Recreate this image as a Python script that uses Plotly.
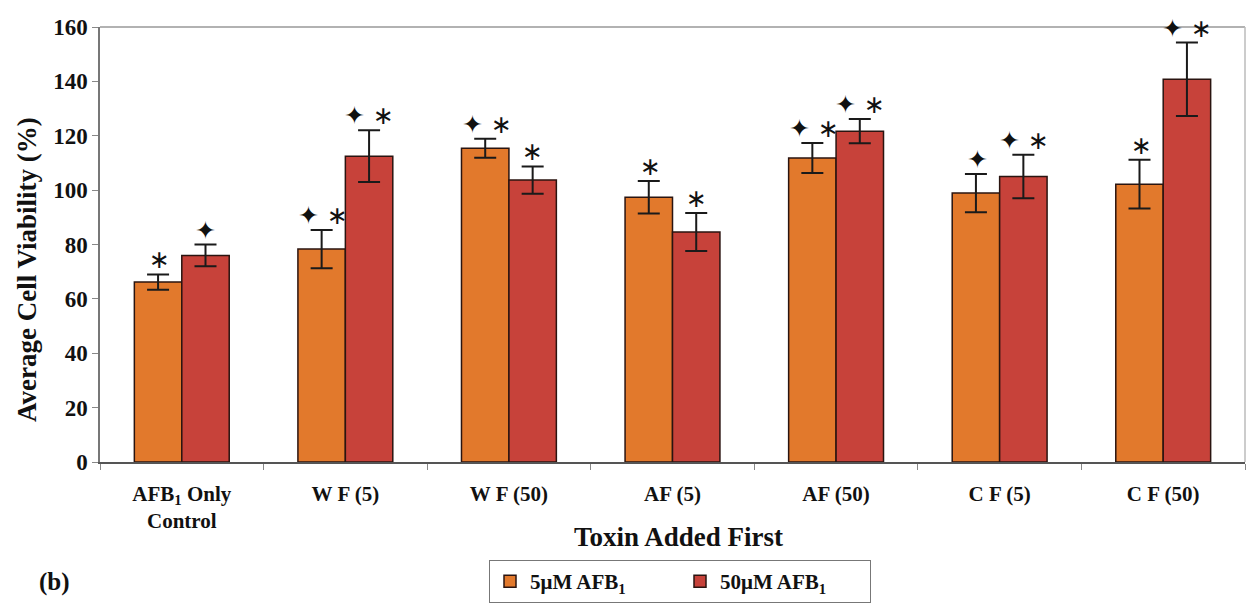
import plotly.graph_objects as go

categories = ["AFB<sub>1</sub> Only<br>Control", "W F (5)", "W F (50)", "AF (5)", "AF (50)", "C F (5)", "C F (50)"]
series_names = ["5μM AFB<sub>1</sub>", "50μM AFB<sub>1</sub>"]
vals_5 = [66.2, 78.3, 115.4, 97.4, 111.8, 98.9, 102.2]
err_5 = [2.8, 7.0, 3.5, 6.0, 5.5, 7.0, 9.0]
vals_50 = [76.0, 112.5, 103.7, 84.6, 121.7, 105.0, 140.8]
err_50 = [4.0, 9.5, 5.0, 7.0, 4.5, 8.0, 13.5]
marks_5 = ["∗", "✦ ∗", "✦ ∗", "∗", "✦ ∗", "✦", "∗"]
marks_50 = ["✦", "✦ ∗", "∗", "∗", "✦ ∗", "✦ ∗", "✦ ∗"]
y_ticks = [0, 20, 40, 60, 80, 100, 120, 140, 160]
y_title = "Average Cell Viability (%)"
x_title = "Toxin Added First"

FONT = "Liberation Serif"
C_ORANGE = "#E2792C"
C_RED = "#C7423A"
EDGE = "#2a1410"

W, H = 1256, 616
ML, MR, MT, MB = 100, 11, 27, 154
PW, PH = W - ML - MR, H - MT - MB


def px_to_paper(xp, yp):
    return (xp - ML) / PW, (H - MB - yp) / PH


fig = go.Figure()
for name, vals, errs, col in [(series_names[0], vals_5, err_5, C_ORANGE),
                              (series_names[1], vals_50, err_50, C_RED)]:
    fig.add_trace(go.Bar(
        x=categories, y=vals, name=name,
        marker=dict(color=col, line=dict(color=EDGE, width=1.5)),
        error_y=dict(type="data", array=errs, visible=True, color="#1a1a1a", thickness=2, width=11),
    ))

annotations = []
for i, cat in enumerate(categories):
    for vals, errs, marks, shift in [(vals_5, err_5, marks_5, -22), (vals_50, err_50, marks_50, 24)]:
        annotations.append(dict(
            x=cat, y=vals[i] + errs[i], xref="x", yref="y",
            text=marks[i], showarrow=False, yanchor="bottom", xshift=shift, yshift=-2,
            font=dict(family="DejaVu Sans", size=25, color="#111"),
        ))

bx, by = px_to_paper(54, 582)
annotations.append(dict(x=bx, y=by, xref="paper", yref="paper", text="<b>(b)</b>", showarrow=False,
                        xanchor="center", yanchor="middle",
                        font=dict(family=FONT, size=25, color="#111")))
tx, ty = px_to_paper(27, 270)
annotations.append(dict(x=tx, y=ty, xref="paper", yref="paper", text="<b>" + y_title + "</b>",
                        showarrow=False, textangle=-90, xanchor="center", yanchor="middle",
                        font=dict(family=FONT, size=27, color="#111")))
xtx, xty = px_to_paper(678, 537)
annotations.append(dict(x=xtx, y=xty, xref="paper", yref="paper", text="<b>" + x_title + "</b>",
                        showarrow=False, xanchor="center", yanchor="middle",
                        font=dict(family=FONT, size=27, color="#111")))

lx, ly = px_to_paper(680, 560)
fig.update_layout(
    width=W, height=H,
    margin=dict(l=ML, r=MR, t=MT, b=MB),
    paper_bgcolor="white", plot_bgcolor="white",
    barmode="group", bargap=0.42, bargroupgap=0.0,
    font=dict(family=FONT, size=16, color="#111"),
    xaxis=dict(
        tickfont=dict(family=FONT, size=21, color="#111", weight="bold"),
        ticklabelstandoff=12,
        showline=True, linecolor="#555", linewidth=1.5,
        ticks="outside", tickson="boundaries", ticklen=6, tickcolor="#888",
        showgrid=False,
    ),
    yaxis=dict(
        range=[0, 160], tickvals=y_ticks,
        tickfont=dict(family=FONT, size=23, color="#111", weight="bold"),
        showline=True, linecolor="#777", linewidth=1.5,
        ticks="outside", ticklen=6, tickcolor="#888",
        showgrid=False, zeroline=False,
    ),
    legend=dict(
        orientation="h", x=lx, xanchor="center", y=ly, yanchor="top",
        bordercolor="#777", borderwidth=1, bgcolor="white",
        font=dict(family=FONT, size=21, color="#111", weight="bold"),
        entrywidth=145, traceorder="normal",
        itemwidth=30,
    ),
    showlegend=True,
    shapes=[
        dict(type="line", xref="paper", yref="paper", x0=0, x1=1, y0=1, y1=1, line=dict(color="#999", width=1.5)),
        dict(type="line", xref="paper", yref="paper", x0=1, x1=1, y0=0, y1=1, line=dict(color="#bbb", width=1.5)),
    ],
    annotations=annotations,
)

fig.write_html("out.html")
